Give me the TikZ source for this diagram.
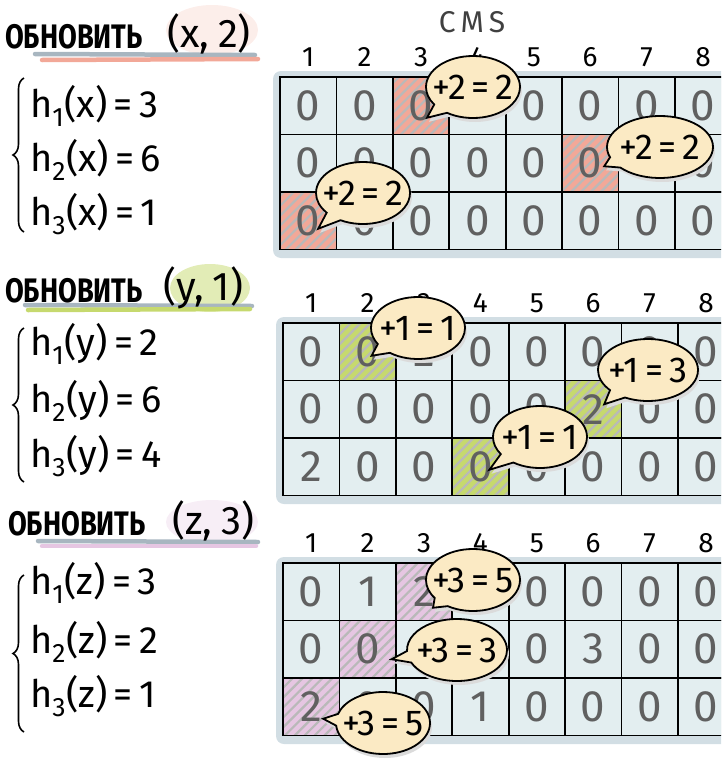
\documentclass[tikz,border=0pt]{standalone}
\usepackage{fontspec}
\setmainfont{Fira Sans}
\newfontfamily\uzkij[FakeStretch=0.8]{Fira Sans}
\usetikzlibrary{positioning,calc,patterns.meta,shapes.callouts,decorations.pathreplacing}
\definecolor{fon}{HTML}{E3EEF0}
\definecolor{ten}{HTML}{D2DEE4}
\definecolor{krem}{HTML}{FBEAC4}
\definecolor{losos}{HTML}{F2A898}
\definecolor{salat}{HTML}{C6D96E}
\definecolor{roza}{HTML}{E6C6E2}
\definecolor{cifra}{HTML}{606060}
\definecolor{seryj}{HTML}{A8B6C0}
\tikzset{
  kletka/.style={draw,line width=1.8pt,minimum width=56.4pt,minimum height=57.5pt,
    inner sep=0pt,text=cifra,font=\fontsize{44}{44}\selectfont},
  nomer/.style={inner sep=0pt,font=\fontsize{28}{28}\selectfont},
  puzyr/.style={ellipse callout,draw,line width=1.8pt,fill=krem,minimum width=94pt,
    minimum height=62pt,inner sep=0pt,callout pointer arc=22,
    preaction={fill=black!14,transform canvas={shift={(2,4)}}},
    font=\fontsize{36}{36}\selectfont},
  zag/.style={anchor=west,inner sep=0pt,font=\fontsize{34}{34}\selectfont\uzkij\bfseries},
  para/.style={inner sep=0pt,font=\fontsize{40}{40}\selectfont},
  hf/.style={anchor=west,inner sep=0pt,font=\fontsize{38}{38}\selectfont},
  skobka/.style={decorate,decoration={brace,amplitude=11pt},line width=1.6pt},
  cherta/.style={line width=4.5pt,line cap=round},
  shtrih/.style={pattern={Lines[angle=45,distance=7pt,line width=2.2pt]},pattern color=gray!55},
}
\newcommand\pz[1]{\makebox[44pt]{#1}}
% #1 name, #2 x, #3 y, #4 rows, #5 hatched cells, #6 colour
\newcommand\setka[6]{%
  \fill[ten,rounded corners=8pt] ({#2-7},{#3-6}) rectangle ({#2+470},{#3+181});
  \fill[fon] (#2,#3) rectangle ({#2+8*56.4},{#3+172.5});
  \foreach \r/\c in {#5}
    \path[preaction={fill=#6},shtrih] ({#2+(\c-1)*56.4},{#3+(\r-1)*57.5}) rectangle +(56.4,57.5);
  \foreach \row [count=\r] in {#4}{
    \foreach \v [count=\c] in \row
      \node[kletka] (#1-\r-\c) at ({#2+(\c-0.5)*56.4},{#3+(\r-0.5)*57.5}) {\v};
  }
  \foreach \c in {1,...,8}
    \node[nomer] (#1-n\c) at ({#2+(\c-0.5)*56.4},{#3-20}) {\c};
}

\begin{document}
\begin{tikzpicture}[x=1pt,y=-1pt]
  \useasboundingbox (0,0) rectangle (721,763);
  \clip (0,0) rectangle (721,763);

  % highlights and underlines
  \fill[losos,opacity=.2] (212,30) ellipse (46 and 25);
  \fill[salat,opacity=.5] (210,288) ellipse (40 and 24);
  \fill[roza,opacity=.3] (212,522) ellipse (46 and 22);
  \draw[cherta,seryj] (35,54) -- (255,55);
  \draw[cherta,losos] (42,60) -- (258,59);
  \draw[cherta,seryj] (25,305) -- (252,306);
  \draw[cherta,salat] (28,310) -- (250,309);
  \draw[cherta,seryj] (38,541) -- (258,542);
  \draw[cherta,roza] (42,546) -- (256,546);

  % update (x,2)
  \node[zag] (t1) at (5,37) {ОБНОВИТЬ};
  \node[para,right=24pt of t1,yshift=3pt] (p1) {(x,\:2)};
  \draw[skobka] (24,232) -- (24,78);
  \node[hf] (h1x) at (30,106) {h\textsubscript{1}(x)\,=\,3};
  \node[hf] (h2x) at (30,160) {h\textsubscript{2}(x)\,=\,6};
  \node[hf] (h3x) at (30,214) {h\textsubscript{3}(x)\,=\,1};

  % update (y,1)
  \node[zag] (t2) at (5,291) {ОБНОВИТЬ};
  \node[para,right=20pt of t2,yshift=3pt] (p2) {(y,\:1)};
  \draw[skobka] (24,482) -- (24,328);
  \node[hf] (h1y) at (30,344) {h\textsubscript{1}(y)\,=\,2};
  \node[hf] (h2y) at (30,401) {h\textsubscript{2}(y)\,=\,6};
  \node[hf] (h3y) at (30,456) {h\textsubscript{3}(y)\,=\,4};

  % update (z,3)
  \node[zag] (t3) at (8,524) {ОБНОВИТЬ};
  \node[para,right=26pt of t3,yshift=3pt] (p3) {(z,\:3)};
  \draw[skobka] (24,732) -- (24,575);
  \node[hf] (h1z) at (30,583) {h\textsubscript{1}(z)\,=\,3};
  \node[hf] (h2z) at (30,642) {h\textsubscript{2}(z)\,=\,2};
  \node[hf] (h3z) at (30,696) {h\textsubscript{3}(z)\,=\,1};

  \node[font=\fontsize{30}{30}\selectfont,text=black!75] (cms) at (472,22)
    {C\hspace{5pt}M\hspace{5pt}S};

  \setka{a}{280}{77}{{0,0,0,0,0,0,0,0},{0,0,0,0,0,0,0,0},{0,0,0,0,0,0,0,0}}{1/3,2/6,3/1}{losos}
  \setka{b}{283}{323}{{0,0,2,0,0,0,0,0},{0,0,0,0,0,2,0,0},{2,0,0,0,0,0,0,0}}{1/2,2/6,3/4}{salat}
  \setka{c}{283}{563}{{0,1,2,0,0,0,0,0},{0,0,0,0,0,3,0,0},{2,0,0,1,0,0,0,0}}{1/3,2/2,3/1}{roza}

  % bubbles
  \node[puzyr,callout absolute pointer={($(a-1-3.center)+(6,12)$)}] (pa1) at (473,87) {\pz{+2\,=\,2}};
  \node[puzyr,minimum width=106pt,callout absolute pointer={($(a-2-6.center)+(14,3)$)}] (pa2) at (660,147) {\pz{+2\,=\,2}};
  \node[puzyr,callout absolute pointer={($(a-3-1.center)+(10,8)$)}] (pa3) at (363,193) {\pz{+2\,=\,2}};

  \node[puzyr,callout absolute pointer={($(b-1-2.center)+(4,4)$)}] (pb1) at (418,328) {\pz{+1\,=\,1}};
  \node[puzyr,minimum width=100pt,callout absolute pointer={($(b-2-6.center)+(11,-5)$)}] (pb2) at (648,370) {\pz{+1\,=\,3}};
  \node[puzyr,callout absolute pointer={($(b-3-4.center)+(9,3)$)}] (pb3) at (540,437) {\pz{+1\,=\,1}};

  \node[puzyr,callout absolute pointer={($(c-1-3.center)+(9,16)$)}] (pc1) at (473,580) {\pz{+3\,=\,5}};
  \node[puzyr,minimum width=100pt,callout absolute pointer={($(c-2-2.center)+(24,10)$)}] (pc2) at (457,650) {\pz{+3\,=\,3}};
  \node[puzyr,callout absolute pointer={($(c-3-1.center)+(12,12)$)}] (pc3) at (383,723) {\pz{+3\,=\,5}};
\end{tikzpicture}
\end{document}
